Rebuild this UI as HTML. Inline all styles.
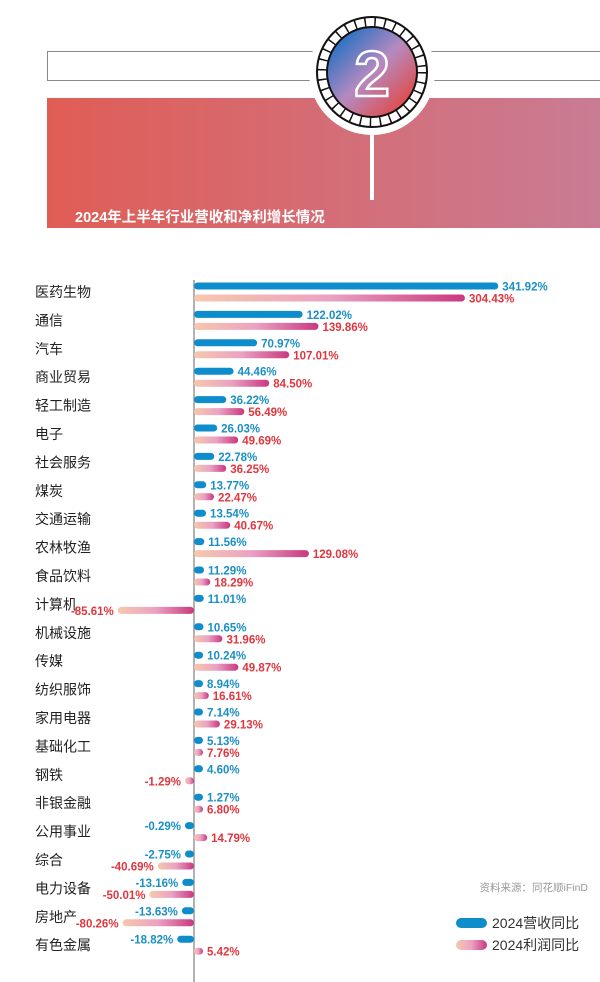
<!DOCTYPE html>
<html><head><meta charset="utf-8">
<style>
body{margin:0;width:600px;height:982px;background:#fff;overflow:hidden;position:relative;font-family:"Liberation Sans","Noto Sans CJK SC",sans-serif}
svg{position:absolute;left:0;top:0}
</style></head>
<body>
<svg width="600" height="982" viewBox="0 0 600 982">
<defs>
<linearGradient id="ban" x1="0" x2="1" y1="0" y2="0"><stop offset="0" stop-color="#e05d55"/><stop offset="1" stop-color="#c97c94"/></linearGradient>
<linearGradient id="orb" x1="0" y1="0" x2="1" y2="1"><stop offset="0.1" stop-color="#1b6fc4"/><stop offset="0.5" stop-color="#b58ac0"/><stop offset="0.9" stop-color="#e3463f"/></linearGradient>
<linearGradient id="pk" x1="0" x2="1"><stop offset="0" stop-color="#f6c8ad"/><stop offset="0.5" stop-color="#eaa2c2"/><stop offset="1" stop-color="#c9387f"/></linearGradient>
<linearGradient id="pkn" x1="1" x2="0"><stop offset="0" stop-color="#c9387f"/><stop offset="0.5" stop-color="#eaa2c2"/><stop offset="1" stop-color="#f6c8ad"/></linearGradient>
</defs>
<rect x="47.5" y="51.5" width="560" height="29" fill="none" stroke="#888"/>
<rect x="47" y="98" width="553" height="130" fill="url(#ban)"/>
<rect x="370" y="100" width="4" height="100" fill="#fff"/>
<circle cx="372" cy="72" r="63" fill="#fff"/>
<g>
<circle cx="372" cy="72" r="50" fill="none" stroke="#111" stroke-width="10" stroke-dasharray="1.5 8.4"/>
<circle cx="372" cy="72" r="55" fill="none" stroke="#111" stroke-width="2"/>
<circle cx="372" cy="72" r="45" fill="url(#orb)" stroke="#111" stroke-width="2"/>
<text x="372" y="96" text-anchor="middle" font-size="64" font-weight="bold" fill="none" stroke="#fff" stroke-width="2.5">2</text>
</g>
<text x="75" y="222" font-size="14.5" font-weight="bold" fill="#fff">2024年上半年行业营收和净利增长情况</text>
<line x1="194" y1="280" x2="194" y2="982" stroke="#999" stroke-width="1.5"/>
<g id="bars"></g>
<text x="588" y="891" text-anchor="end" font-size="10.5" fill="#999">资料来源：同花顺iFinD</text>
<rect x="456" y="918" width="31" height="10" rx="5" fill="#0f8ccb"/>
<text x="492" y="928" font-size="14" fill="#333">2024营收同比</text>
<rect x="456" y="940" width="31" height="10" rx="5" fill="url(#pk)"/>
<text x="492" y="950" font-size="14" fill="#333">2024利润同比</text>
</svg>
<script>
const categories=["医药生物","通信","汽车","商业贸易","轻工制造","电子","社会服务","煤炭","交通运输","农林牧渔","食品饮料","计算机","机械设施","传媒","纺织服饰","家用电器","基础化工","钢铁","非银金融","公用事业","综合","电力设备","房地产","有色金属"];
const revenue=[341.92,122.02,70.97,44.46,36.22,26.03,22.78,13.77,13.54,11.56,11.29,11.01,10.65,10.24,8.94,7.14,5.13,4.60,1.27,-0.29,-2.75,-13.16,-13.63,-18.82];
const profit=[304.43,139.86,107.01,84.50,56.49,49.69,36.25,22.47,40.67,129.08,18.29,-85.61,31.96,49.87,16.61,29.13,7.76,-1.29,6.80,14.79,-40.69,-50.01,-80.26,5.42];
const NS="http://www.w3.org/2000/svg";
const g=document.getElementById('bars');
const x0=194;
function xLen(v){return Math.max(9,Math.abs(v)*0.89);}
function rowY(i){return 292+i*28.4;}
function mk(tag,attrs){const e=document.createElementNS(NS,tag);for(const k in attrs)e.setAttribute(k,attrs[k]);g.appendChild(e);return e;}
categories.forEach((c,i)=>{
  const y=rowY(i);
  const t=mk('text',{x:35,y:y+5,'font-size':14,fill:'#222'});t.textContent=c;
  
  
  [[revenue[i],y-6,'#0f8ccb','#1a8fc6','revenue'],[profit[i],y+6,null,'#e0363e','profit']].forEach(([v,by,fill,tc,kind])=>{
    const L=xLen(v);const x=v>=0?x0:x0-L;
    const f=fill||(v>=0?'url(#pk)':'url(#pkn)');
    const r=mk('rect',{x:x,y:by-3.5,width:L,height:7,rx:3.5,fill:f});
    
    
    const lx=v>=0?x0+L+4:x0-L-4;
    const lab=mk('text',{x:lx,y:by+4.5,'font-size':11.5,'font-weight':'bold',fill:tc,'text-anchor':v>=0?'start':'end'});
    lab.textContent=v.toFixed(2)+'%';
    
    
  });
});
</script>
</body></html>
